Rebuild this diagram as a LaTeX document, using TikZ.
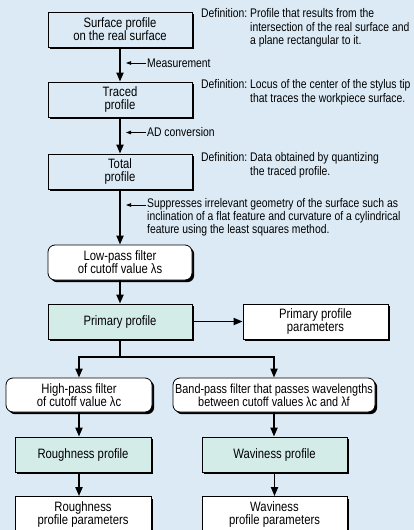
\documentclass[tikz,border=0pt]{standalone}
\usepackage{fontspec}
\setmainfont{Liberation Sans}[FakeStretch=0.83]
\usetikzlibrary{arrows.meta,shadows,positioning}
\definecolor{bgblue}{HTML}{DBEAF5}
\definecolor{tealfill}{HTML}{D4ECE8}

\begin{document}
\begin{tikzpicture}[x=1pt,y=-1pt,
	box/.style={draw=black, line width=0.8pt, minimum height=35pt, align=center,
		inner sep=1pt, font=\fontsize{13.6}{13}\selectfont,
		drop shadow={shadow xshift=2.2pt,shadow yshift=-2.2pt,fill=black,opacity=1}},
	plain/.style={box, fill=bgblue},
	filter/.style={box, fill=white, rounded corners=7pt},
	result/.style={box, fill=tealfill},
	param/.style={box, fill=white},
	defn/.style={inner sep=0pt, anchor=north west, font=\fontsize{12.5}{13.5}\selectfont},
	note/.style={inner sep=1pt, anchor=west, align=left, font=\fontsize{12.5}{13}\selectfont},
	flow/.style={line width=1.8pt, -{Triangle[width=7pt,length=9pt]}},
	pointer/.style={line width=0.8pt, -{Triangle[width=3.5pt,length=5pt]}}]
	
	\useasboundingbox (0,0) rectangle (414,530);
	\fill[bgblue] (0,0) rectangle (414,530);
	\clip (0,0) rectangle (414,530);
	
	% main column
	\node[plain, minimum width=144pt] (surf) at (120,29.5) {Surface profile\\on the real surface};
	\node[plain, minimum width=144pt] (traced) at (120,99.5) {Traced\\profile};
	\node[plain, minimum width=144pt] (total) at (120,171.5) {Total\\profile};
	\node[filter, minimum width=144pt] (lowpass) at (120,262.5) {Low-pass filter\\of cutoff value λs};
	\node[result, minimum width=144pt] (primary) at (120,321.5) {Primary profile};
	\node[param, minimum width=145pt] (primpar) at (315.5,321.5) {Primary profile\\parameters};
	
	% two branches
	\node[filter, minimum width=146pt, minimum height=34pt] (highpass) at (79,395) {High-pass filter\\of cutoff value λc};
	\node[filter, minimum width=202pt, minimum height=34pt, inner sep=0.5pt,
		font=\fontsize{13.1}{13}\selectfont] (bandpass) at (274,395) {Band-pass filter that passes wavelengths\\between cutoff values λc and λf};
	\node[result, minimum width=136pt] (rough) at (83,454.5) {Roughness profile};
	\node[result, minimum width=145pt] (wavy) at (274.5,454.5) {Waviness profile};
	\node[param, minimum width=136pt] (roughpar) at (83,514) {Roughness\\profile parameters};
	\node[param, minimum width=145pt] (wavypar) at (274.5,514) {Waviness\\profile parameters};
	
	% definitions
	\node[defn] (def1) at (201,8) {\begin{tabular}{@{}l@{\ }l@{}}
		Definition: & Profile that results from the\\
		& intersection of the real surface and\\
		& a plane rectangular to it.
	\end{tabular}};
	\node[defn] (def2) at (201,79) {\begin{tabular}{@{}l@{\ }l@{}}
		Definition: & Locus of the center of the stylus tip\\
		& that traces the workpiece surface.
	\end{tabular}};
	\node[defn] (def3) at (201,152) {\begin{tabular}{@{}l@{\ }l@{}}
		Definition: & Data obtained by quantizing\\
		& the traced profile.
	\end{tabular}};
	
	% notes on the arrows
	\node[note] (meas) at (146,63) {Measurement};
	\node[note] (adconv) at (146,132.5) {AD conversion};
	\node[note, anchor=north west] (supp) at (146,197) {Suppresses irrelevant geometry of the surface such as\\
		inclination of a flat feature and curvature of a cylindrical\\
		feature using the least squares method.};
	\coordinate (meas-tip) at (126,63);
	\coordinate (adconv-tip) at (126,132.5);
	\coordinate (supp-tip) at (126,205);
	\coordinate (split) at (120,357);
	
	\draw[flow] (surf) -- (traced);
	\draw[flow] (traced) -- (total);
	\draw[flow] (total) -- (lowpass);
	\draw[flow] (lowpass) -- (primary);
	\draw[flow] (primary) -- (primpar);
	\draw[line width=1.8pt] (primary) -- (split);
	\draw[flow] (split) -| (highpass.north);
	\draw[flow] (split) -| (bandpass.north);
	\draw[flow] (highpass.south) -- (highpass.south |- rough.north);
	\draw[flow] (bandpass.south) -- (bandpass.south |- wavy.north);
	\draw[flow] (rough.south -| highpass.south) -- (roughpar.north -| highpass.south);
	\draw[flow] (wavy) -- (wavypar);
	
	\draw[pointer] (meas.west) -- (meas-tip);
	\draw[pointer] (adconv.west) -- (adconv-tip);
	\draw[pointer] (supp.west |- supp-tip) -- (supp-tip);
	
\end{tikzpicture}
\end{document}
